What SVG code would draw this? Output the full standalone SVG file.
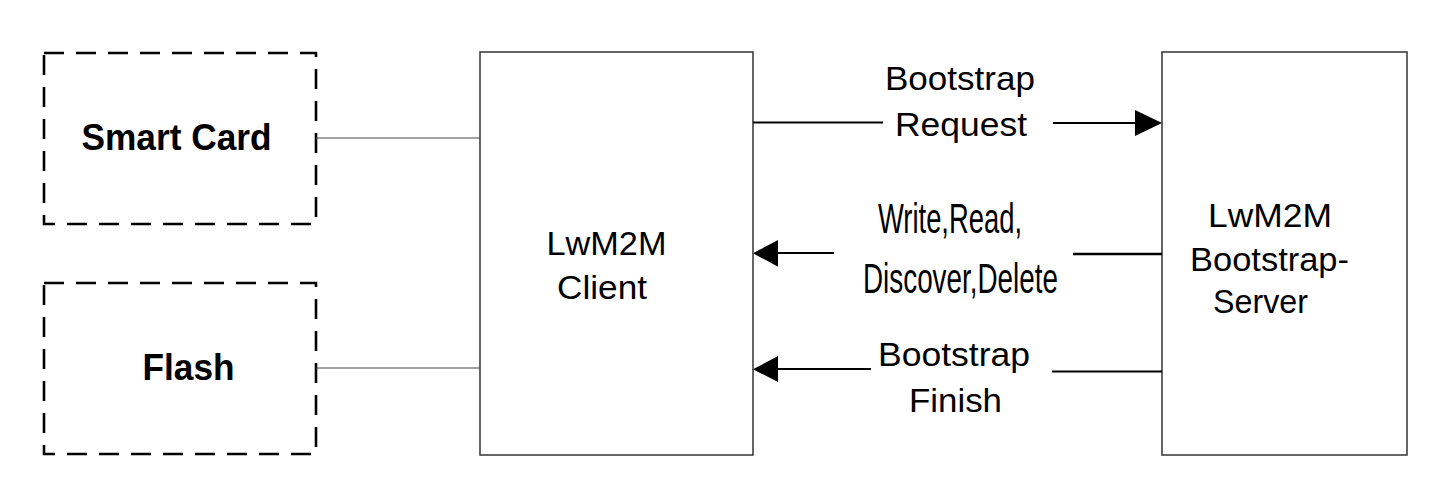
<svg xmlns="http://www.w3.org/2000/svg" width="1442" height="502" viewBox="0 0 1442 502">
<style>
.box{fill:#fff;stroke:#333;stroke-width:1.5}
.dash{fill:none;stroke:#000;stroke-width:2.6;stroke-dasharray:20 12}
.t{font-family:"Liberation Sans",Arial,sans-serif;font-size:33px;fill:#000}
.b{font-family:"Liberation Sans",Arial,sans-serif;font-size:37px;font-weight:bold;fill:#000}
.n{font-family:"Liberation Sans",Arial,sans-serif;font-size:43px;fill:#000}
.thin{stroke:#444;stroke-width:1.2;fill:none}
.ln{stroke:#000;stroke-width:1.8;fill:none}
.thick{stroke:#000;stroke-width:2.6;fill:none}
.ah{fill:#000}
</style>
<rect width="1442" height="502" fill="#fff"/>
<g id="smartcard">
<rect class="dash" x="44" y="53" width="272" height="171"/>
<text class="b" x="81.5" y="149.5" textLength="190" lengthAdjust="spacingAndGlyphs">Smart Card</text>
</g>
<g id="flash">
<rect class="dash" x="44" y="283" width="272" height="171"/>
<text class="b" x="142.5" y="380" textLength="92" lengthAdjust="spacingAndGlyphs">Flash</text>
</g>
<g id="client">
<rect class="box" x="480" y="52" width="273" height="403"/>
<text class="t" x="546.5" y="255" textLength="120" lengthAdjust="spacingAndGlyphs">LwM2M</text>
<text class="t" x="557" y="299" textLength="90" lengthAdjust="spacingAndGlyphs">Client</text>
</g>
<g id="server">
<rect class="box" x="1162" y="52" width="245" height="403"/>
<text class="t" x="1208" y="227" textLength="124" lengthAdjust="spacingAndGlyphs">LwM2M</text>
<text class="t" x="1190" y="271" textLength="159" lengthAdjust="spacingAndGlyphs">Bootstrap-</text>
<text class="t" x="1213" y="313" textLength="95" lengthAdjust="spacingAndGlyphs">Server</text>
</g>
<g id="connectors">
<line class="thin" x1="316" y1="138" x2="480" y2="138"/>
<line class="thin" x1="316" y1="368" x2="480" y2="368"/>
<line class="ln" x1="753" y1="122.5" x2="883" y2="122.5"/>
<line class="ln" x1="1053" y1="123" x2="1136" y2="123"/>
<polygon class="ah" points="1162,123 1135,110 1135,136"/>
<line class="ln" x1="777" y1="253" x2="834" y2="253"/>
<line class="thick" x1="1073" y1="254" x2="1162" y2="254"/>
<polygon class="ah" points="753,253.3 778,240 778,266.7"/>
<line class="ln" x1="777" y1="369" x2="871" y2="369"/>
<line class="ln" x1="1052" y1="371.5" x2="1162" y2="371.5"/>
<polygon class="ah" points="753,369.3 778,356 778,382"/>
<text class="t" x="885" y="90" textLength="150" lengthAdjust="spacingAndGlyphs">Bootstrap</text>
<text class="t" x="895" y="135.5" textLength="132" lengthAdjust="spacingAndGlyphs">Request</text>
<text class="n" x="878" y="233" textLength="144" lengthAdjust="spacingAndGlyphs">Write,Read,</text>
<text class="n" x="863" y="293" textLength="195" lengthAdjust="spacingAndGlyphs">Discover,Delete</text>
<text class="t" x="878" y="365.5" textLength="152" lengthAdjust="spacingAndGlyphs">Bootstrap</text>
<text class="t" x="909" y="412" textLength="93" lengthAdjust="spacingAndGlyphs">Finish</text>
</g>
</svg>
